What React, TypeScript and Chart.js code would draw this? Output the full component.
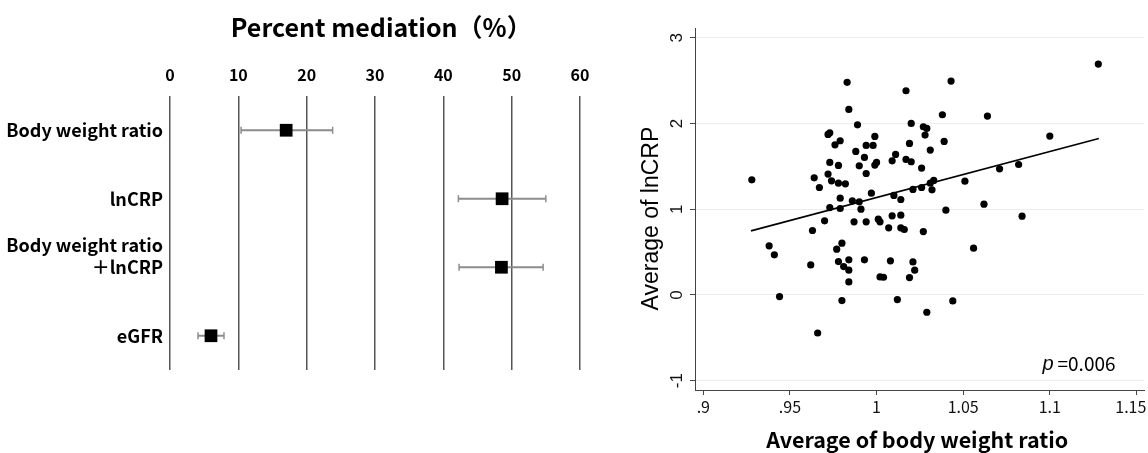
import React, { useEffect, useRef } from 'react';
import { Chart, registerables } from 'chart.js';

Chart.register(...registerables);

// ---------- Left panel: percent mediation (forest plot) ----------
const mediators: (string | string[])[] = [
  'Body weight ratio',
  'lnCRP',
  ['Body weight ratio', '＋lnCRP', ''],
  'eGFR',
];
const mediationPct = [17.0, 48.6, 48.5, 6.0];
const ciLower = [10.4, 42.2, 42.3, 4.1];
const ciUpper = [23.8, 55.0, 54.6, 7.9];
const pctTicks = [0, 10, 20, 30, 40, 50, 60];
const pctTitle = '\u2002Percent mediation（%）';

// ---------- Right panel: scatter ----------
const bwRatio = [
  0.983, 0.984, 0.989, 0.972, 0.973, 0.979, 0.976, 0.999, 0.994, 0.998,
  0.988, 0.993, 0.973, 0.978, 0.990, 0.999, 1.000, 0.994, 0.972, 0.964,
  0.974, 0.978, 0.982, 0.967, 0.928, 0.997, 0.979,
  1.017, 1.043, 1.038, 1.064, 1.020, 1.027, 1.029, 1.028, 1.019, 1.039,
  1.031, 1.011, 1.009, 1.017, 1.020, 1.026, 1.071, 1.033, 1.031, 1.032,
  1.051, 1.026, 1.021, 1.010, 1.014,
  0.986, 0.990, 0.973, 0.979, 0.991, 0.970, 0.987, 0.994, 0.963, 0.980,
  0.977, 0.938, 0.941, 0.962, 0.978, 0.984, 0.981, 0.984, 0.993, 0.984,
  0.944, 0.980, 0.966,
  1.040, 1.062, 1.001, 1.002, 1.009, 1.014, 1.007, 1.014, 1.016, 1.027,
  1.056, 1.008, 1.021, 1.022, 1.002, 1.004, 1.019, 1.012, 1.044, 1.029,
  1.128, 1.100, 1.082, 1.084,
];
const lnCRP = [
  2.479, 2.163, 1.984, 1.872, 1.891, 1.798, 1.751, 1.848, 1.743, 1.743,
  1.673, 1.603, 1.545, 1.510, 1.506, 1.514, 1.545, 1.416, 1.409, 1.366,
  1.331, 1.303, 1.296, 1.253, 1.342, 1.187, 1.128,
  2.381, 2.494, 2.101, 2.086, 2.000, 1.961, 1.942, 1.864, 1.767, 1.790,
  1.689, 1.638, 1.564, 1.580, 1.553, 1.479, 1.471, 1.335, 1.303, 1.226,
  1.327, 1.253, 1.230, 1.160, 1.113,
  1.097, 1.086, 1.019, 1.008, 1.000, 0.864, 0.852, 0.852, 0.751, 0.603,
  0.533, 0.572, 0.467, 0.350, 0.389, 0.409, 0.331, 0.288, 0.409, 0.152,
  -0.019, -0.066, -0.444,
  0.988, 1.058, 0.883, 0.852, 0.922, 0.930, 0.782, 0.782, 0.763, 0.739,
  0.545, 0.397, 0.385, 0.288, 0.210, 0.206, 0.202, -0.054, -0.070, -0.202,
  2.692, 1.852, 1.521, 0.918,
];
const fitX = [0.9275, 1.1283];
const fitY = [0.747, 1.825];
const xTickValues = [0.9, 0.95, 1, 1.05, 1.1, 1.15];
const xTickLabels = ['.9', '.95', '1', '1.05', '1.1', '1.15\u2002\u2009'];
const yTickValues = [-1, 0, 1, 2, 3];
const xTitle = 'Average of body weight ratio ';
const yTitle = 'Average of lnCRP   ';
const pName = 'p';
const pText = '=0.006';

const JP = '"Noto Sans CJK JP", "Noto Sans", sans-serif';
const ARIAL = '"Liberation Sans", Arial, sans-serif';

const pValuePlugin = {
  id: 'pValue',
  afterDraw(chart: any) {
    const { ctx, chartArea } = chart;
    ctx.save();
    ctx.fillStyle = '#000';
    ctx.textBaseline = 'middle';
    ctx.textAlign = 'left';
    const y = chartArea.bottom - 26;
    let x = chartArea.right - 102;
    ctx.font = `italic 20px ${ARIAL}`;
    ctx.fillText(pName, x, y);
    x += ctx.measureText(pName).width + 4;
    ctx.font = `19px ${JP}`;
    ctx.fillText(pText, x, y);
    ctx.restore();
  },
};

export default function App() {
  const leftRef = useRef<HTMLCanvasElement>(null);
  const rightRef = useRef<HTMLCanvasElement>(null);

  useEffect(() => {
    const errorSets: any[] = mediators.map((_, i) => ({
      type: 'line',
      data: [
        { x: ciLower[i], y: i + 1 },
        { x: ciUpper[i], y: i + 1 },
      ],
      borderColor: '#8c8c8c',
      borderWidth: 2,
      pointStyle: 'line',
      pointRotation: 90,
      pointRadius: 3.5,
      pointBorderColor: '#8c8c8c',
      pointBorderWidth: 1.5,
      pointHoverRadius: 3.5,
    }));

    const left = new Chart(leftRef.current!, {
      type: 'scatter',
      data: {
        datasets: [
          {
            data: mediationPct.map((v, i) => ({ x: v, y: i + 1 })),
            pointStyle: 'rect',
            pointRadius: 9,
            pointHoverRadius: 9,
            backgroundColor: '#000',
            borderColor: '#000',
            borderWidth: 0,
          } as any,
          ...errorSets,
        ],
      },
      options: {
        responsive: false,
        animation: false,
        events: [],
        layout: { padding: { left: 0, right: 40, top: 0, bottom: 83 } },
        plugins: { legend: { display: false }, tooltip: { enabled: false } },
        scales: {
          x: {
            type: 'linear',
            position: 'top',
            min: 0,
            max: 60,
            afterBuildTicks: (s: any) => {
              s.ticks = pctTicks.map((v) => ({ value: v }));
            },
            ticks: {
              autoSkip: false,
              maxRotation: 0,
              padding: 11,
              color: '#000',
              font: { family: JP, size: 16, weight: 'bold' },
            },
            grid: { color: '#555', lineWidth: 1.5, drawTicks: false },
            border: { display: false },
            title: {
              display: true,
              text: pctTitle,
              color: '#000',
              font: { family: JP, size: 25, weight: 'bold' },
              padding: { top: 12, bottom: 0 },
            },
            afterFit: (s: any) => {
              s.height = 96;
              s.paddingLeft = 0;
              s.paddingRight = 0;
            },
          },
          y: {
            type: 'linear',
            min: 0.5,
            max: 4.5,
            reverse: true,
            afterBuildTicks: (s: any) => {
              s.ticks = mediators.map((_, i) => ({ value: i + 1 }));
            },
            ticks: {
              autoSkip: false,
              padding: 7,
              color: '#000',
              font: { family: JP, size: 18, weight: 'bold', lineHeight: 1.22 },
              callback: (v: any) => mediators[Math.round(Number(v)) - 1] as any,
            },
            grid: { display: false, drawTicks: false },
            border: { display: false },
            afterFit: (s: any) => {
              s.width = 170;
              s.paddingTop = 0;
              s.paddingBottom = 0;
            },
          },
        },
      } as any,
    });

    const right = new Chart(rightRef.current!, {
      type: 'scatter',
      data: {
        datasets: [
          {
            data: bwRatio.map((x, i) => ({ x, y: lnCRP[i] })),
            pointRadius: 3.6,
            pointHoverRadius: 3.6,
            backgroundColor: '#000',
            borderWidth: 0,
          } as any,
          {
            type: 'line',
            data: fitX.map((x, i) => ({ x, y: fitY[i] })),
            borderColor: '#000',
            borderWidth: 1.6,
            pointRadius: 0,
            pointHoverRadius: 0,
          } as any,
        ],
      },
      options: {
        responsive: false,
        animation: false,
        events: [],
        layout: { padding: { left: 0, right: 1, top: 28, bottom: 0 } },
        plugins: { legend: { display: false }, tooltip: { enabled: false } },
        scales: {
          x: {
            type: 'linear',
            min: 0.8952,
            max: 1.1546,
            afterBuildTicks: (s: any) => {
              s.ticks = xTickValues.map((v) => ({ value: v }));
            },
            ticks: {
              autoSkip: false,
              maxRotation: 0,
              minRotation: 0,
              padding: 2,
              color: '#111',
              font: { family: JP, size: 16 },
              callback: (_v: any, i: number) => xTickLabels[i],
            },
            grid: { drawOnChartArea: false, tickLength: 5, tickColor: '#444', tickWidth: 1 },
            border: { color: '#444', width: 1 },
            title: {
              display: true,
              text: xTitle,
              color: '#000',
              font: { family: JP, size: 21.5, weight: 'bold' },
              padding: { top: 0, bottom: 0 },
            },
            afterFit: (s: any) => {
              s.height = 63;
              s.paddingLeft = 0;
              s.paddingRight = 0;
            },
          },
          y: {
            type: 'linear',
            min: -1.109,
            max: 3.113,
            afterBuildTicks: (s: any) => {
              s.ticks = yTickValues.map((v) => ({ value: v }));
            },
            ticks: {
              autoSkip: false,
              minRotation: 90,
              maxRotation: 90,
              crossAlign: 'center',
              padding: 5,
              color: '#111',
              font: { family: ARIAL, size: 17 },
              callback: (v: any) => String(v),
            },
            grid: { color: '#ececec', lineWidth: 1, tickLength: 5, tickColor: '#444', tickWidth: 1 },
            border: { color: '#444', width: 1 },
            title: {
              display: true,
              text: yTitle,
              color: '#000',
              font: { family: ARIAL, size: 23 },
              padding: { top: 18, bottom: 0 },
            },
            afterFit: (s: any) => {
              s.width = 75;
              s.paddingTop = 0;
              s.paddingBottom = 0;
            },
          },
        },
      } as any,
      plugins: [pValuePlugin],
    });

    return () => {
      left.destroy();
      right.destroy();
    };
  }, []);

  return (
    <div
      style={{
        position: 'fixed',
        left: 0,
        top: 0,
        width: 1148,
        height: 453,
        background: '#fff',
        overflow: 'hidden',
      }}
    >
      <canvas
        ref={leftRef}
        width={620}
        height={453}
        style={{ position: 'absolute', left: 0, top: 0 }}
      />
      <canvas
        ref={rightRef}
        width={528}
        height={453}
        style={{ position: 'absolute', left: 620, top: 0 }}
      />
    </div>
  );
}
